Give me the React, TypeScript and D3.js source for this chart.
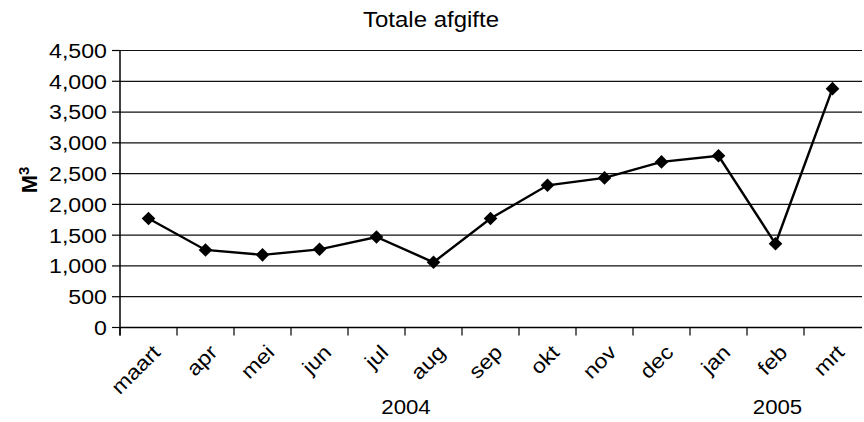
import React from "react";
import * as d3 from "d3";

const months = ["maart", "apr", "mei", "jun", "jul", "aug", "sep", "okt", "nov", "dec", "jan", "feb", "mrt"];
const values = [1770, 1260, 1180, 1270, 1470, 1060, 1770, 2310, 2430, 2690, 2790, 1360, 3880];
const yTicks = [0, 500, 1000, 1500, 2000, 2500, 3000, 3500, 4000, 4500];
const years = [
  { label: "2004", from: "maart", to: "dec" },
  { label: "2005", from: "jan", to: "mrt" },
];
const title = "Totale afgifte";

export default function App() {
  const W = 864, H = 422;
  const left = 120, right = 861, top = 50.5, bottom = 327.5;
  const x = d3.scaleBand<string>().domain(months).range([left, right]).padding(0);
  const y = d3.scaleLinear().domain([0, 4500]).range([bottom, top]);
  const fmt = d3.format(",");
  const cxOf = (m: string) => x(m)! + x.bandwidth() / 2;
  const line = d3.line<number>()
    .x((_, i) => cxOf(months[i]))
    .y((d) => y(d));
  const r = 6.8;
  const diamond = `M0,${-r}L${r},0L0,${r}L${-r},0Z`;
  const font = "Liberation Sans, Arial, sans-serif";
  const sx = 1.13;
  return (
    <svg width={W} height={H} style={{ position: "absolute", left: 0, top: 0 }} fontFamily={font}>
      <rect width={W} height={H} fill="#fff" />
      <text transform={`translate(431 27) scale(1.09 1)`} textAnchor="middle" fontSize={22}>{title}</text>
      {yTicks.map((t) => (
        <g key={t}>
          {t > 0 && <line x1={left} x2={right + 1} y1={y(t)} y2={y(t)} stroke="#111" strokeWidth={1.2} />}
          <line x1={left - 8} x2={left} y1={y(t)} y2={y(t)} stroke="#000" strokeWidth={1.2} />
          <text transform={`translate(107 ${y(t)}) scale(${sx} 1)`} dy="0.36em" textAnchor="end" fontSize={20.5}>{fmt(t)}</text>
        </g>
      ))}
      <line x1={left} x2={left} y1={top} y2={bottom + 8} stroke="#000" strokeWidth={1.5} />
      <line x1={left} x2={right + 1} y1={bottom} y2={bottom} stroke="#000" strokeWidth={1.5} />
      {months.map((m, i) => (
        <line key={"t" + i} x1={x(m)!} x2={x(m)!} y1={bottom} y2={bottom + 8} stroke="#000" strokeWidth={1.2} />
      ))}
      {months.map((m) => {
        const cx = cxOf(m) + 3;
        const cy = bottom + 16;
        return (
          <text key={m} transform={`translate(${cx} ${cy}) rotate(-45) scale(${sx} 1)`} textAnchor="end" dy="0.7em" fontSize={20.5}>{m}</text>
        );
      })}
      {years.map((yr) => {
        const cx = (x(yr.from)! + x(yr.to)! + x.bandwidth()) / 2 + (yr.label === "2005" ? 2 : 1);
        return (
          <text key={yr.label} transform={`translate(${cx} 414) scale(1.14 1)`} textAnchor="middle" fontSize={19.5}>{yr.label}</text>
        );
      })}
      <text transform={`translate(37 180) rotate(-90)`} textAnchor="middle" fontSize={22} fontWeight="bold">
        M<tspan fontSize={15} dy={-8}>3</tspan>
      </text>
      <path d={line(values)!} fill="none" stroke="#000" strokeWidth={2.4} />
      {values.map((v, i) => (
        <path key={i} d={diamond} transform={`translate(${cxOf(months[i])},${y(v)})`} fill="#000" />
      ))}
    </svg>
  );
}
